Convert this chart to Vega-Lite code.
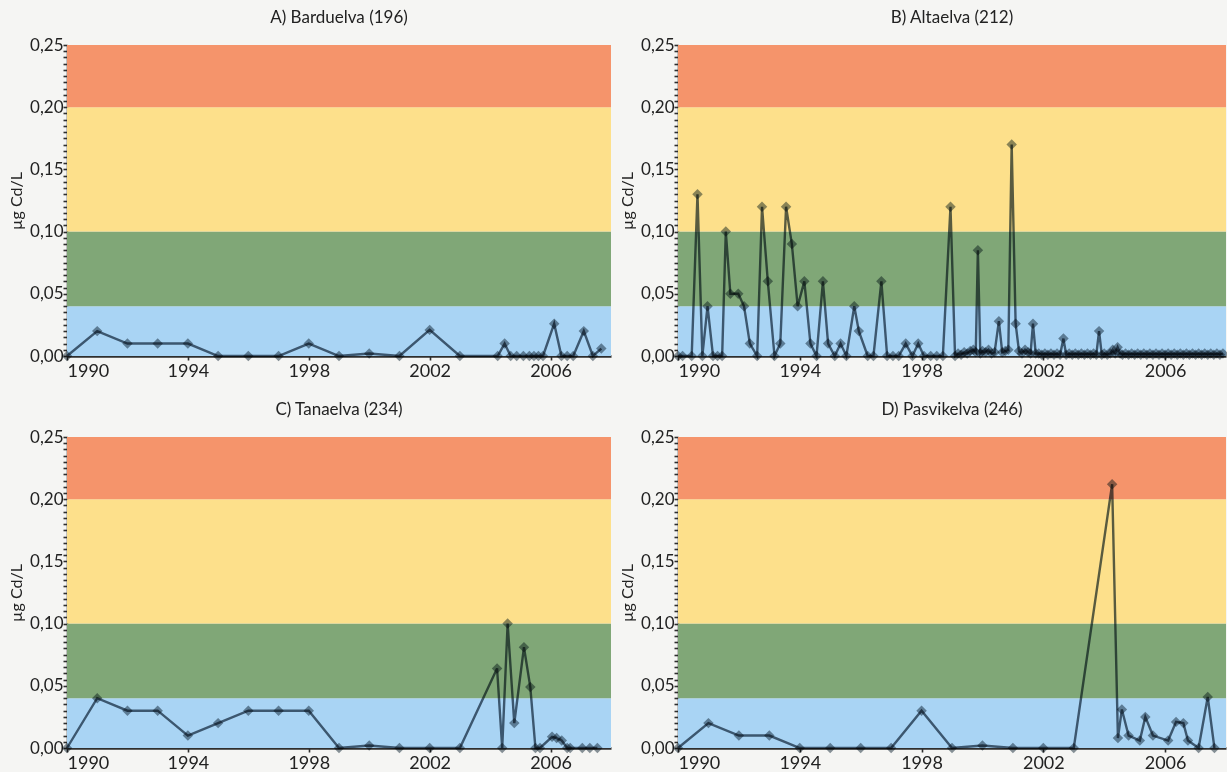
{
  "$schema": "https://vega.github.io/schema/vega-lite/v6.json",
  "background": "#f5f5f3",
  "padding": {"left": 8, "top": 9, "right": 0, "bottom": 0},
  "columns": 2,
  "spacing": {"row": 21, "column": 8},
  "datasets": {
    "bands": [
      {"lo": 0, "hi": 0.04, "k": "1"},
      {"lo": 0.04, "hi": 0.1, "k": "2"},
      {"lo": 0.1, "hi": 0.2, "k": "3"},
      {"lo": 0.2, "hi": 0.25, "k": "4"}
    ],
    "A": [
      {"t": 1990, "v": 0}, {"t": 1991, "v": 0.02}, {"t": 1992, "v": 0.01}, {"t": 1993, "v": 0.01},
      {"t": 1994, "v": 0.01}, {"t": 1995, "v": 0}, {"t": 1996, "v": 0}, {"t": 1997, "v": 0},
      {"t": 1998, "v": 0.01}, {"t": 1999, "v": 0}, {"t": 2000, "v": 0.002}, {"t": 2001, "v": 0},
      {"t": 2002, "v": 0.021}, {"t": 2003, "v": 0}, {"t": 2004.25, "v": 0}, {"t": 2004.48, "v": 0.01},
      {"t": 2004.68, "v": 0}, {"t": 2004.88, "v": 0}, {"t": 2005.1, "v": 0}, {"t": 2005.3, "v": 0},
      {"t": 2005.45, "v": 0}, {"t": 2005.6, "v": 0}, {"t": 2005.75, "v": 0}, {"t": 2006.12, "v": 0.026},
      {"t": 2006.36, "v": 0}, {"t": 2006.55, "v": 0}, {"t": 2006.75, "v": 0}, {"t": 2007.1, "v": 0.02},
      {"t": 2007.4, "v": 0}, {"t": 2007.68, "v": 0.006}
    ],
    "B": [
      {"t": 1990.0, "v": 0}, {"t": 1990.15, "v": 0}, {"t": 1990.45, "v": 0}, {"t": 1990.64, "v": 0.13},
      {"t": 1990.8, "v": 0}, {"t": 1990.97, "v": 0.04}, {"t": 1991.15, "v": 0}, {"t": 1991.3, "v": 0},
      {"t": 1991.45, "v": 0}, {"t": 1991.57, "v": 0.1}, {"t": 1991.72, "v": 0.05}, {"t": 1991.98, "v": 0.05},
      {"t": 1992.17, "v": 0.04}, {"t": 1992.36, "v": 0.01}, {"t": 1992.6, "v": 0}, {"t": 1992.76, "v": 0.12},
      {"t": 1992.95, "v": 0.06}, {"t": 1993.17, "v": 0}, {"t": 1993.36, "v": 0.01}, {"t": 1993.55, "v": 0.12},
      {"t": 1993.74, "v": 0.09}, {"t": 1993.93, "v": 0.04}, {"t": 1994.15, "v": 0.06}, {"t": 1994.35, "v": 0.01},
      {"t": 1994.55, "v": 0}, {"t": 1994.76, "v": 0.06}, {"t": 1994.93, "v": 0.01}, {"t": 1995.15, "v": 0},
      {"t": 1995.34, "v": 0.01}, {"t": 1995.53, "v": 0}, {"t": 1995.79, "v": 0.04}, {"t": 1995.94, "v": 0.02},
      {"t": 1996.23, "v": 0}, {"t": 1996.42, "v": 0}, {"t": 1996.68, "v": 0.06}, {"t": 1996.87, "v": 0},
      {"t": 1997.06, "v": 0}, {"t": 1997.25, "v": 0}, {"t": 1997.48, "v": 0.01}, {"t": 1997.7, "v": 0},
      {"t": 1997.89, "v": 0.01}, {"t": 1998.08, "v": 0}, {"t": 1998.3, "v": 0}, {"t": 1998.5, "v": 0},
      {"t": 1998.7, "v": 0}, {"t": 1998.95, "v": 0.12}, {"t": 1999.1, "v": 0}, {"t": 1999.2, "v": 0.002},
      {"t": 1999.3, "v": 0.001}, {"t": 1999.4, "v": 0.003}, {"t": 1999.5, "v": 0.002}, {"t": 1999.6, "v": 0.004},
      {"t": 1999.7, "v": 0.005}, {"t": 1999.78, "v": 0.003}, {"t": 1999.85, "v": 0.085}, {"t": 1999.93, "v": 0.002},
      {"t": 2000.0, "v": 0.004}, {"t": 2000.1, "v": 0.003}, {"t": 2000.2, "v": 0.005}, {"t": 2000.3, "v": 0.002},
      {"t": 2000.4, "v": 0.003}, {"t": 2000.54, "v": 0.028}, {"t": 2000.65, "v": 0.003}, {"t": 2000.75, "v": 0.004},
      {"t": 2000.85, "v": 0.005}, {"t": 2000.96, "v": 0.17}, {"t": 2001.09, "v": 0.026}, {"t": 2001.2, "v": 0.004},
      {"t": 2001.3, "v": 0.002}, {"t": 2001.4, "v": 0.005}, {"t": 2001.5, "v": 0.003}, {"t": 2001.58, "v": 0.002},
      {"t": 2001.66, "v": 0.026}, {"t": 2001.75, "v": 0.002}, {"t": 2001.85, "v": 0.002}, {"t": 2001.95, "v": 0.001},
      {"t": 2002.05, "v": 0.002}, {"t": 2002.15, "v": 0.001}, {"t": 2002.25, "v": 0.002}, {"t": 2002.35, "v": 0.001},
      {"t": 2002.45, "v": 0.002}, {"t": 2002.55, "v": 0.001}, {"t": 2002.66, "v": 0.014}, {"t": 2002.75, "v": 0.001},
      {"t": 2002.85, "v": 0.002}, {"t": 2002.95, "v": 0.001}, {"t": 2003.05, "v": 0.002}, {"t": 2003.15, "v": 0.001},
      {"t": 2003.25, "v": 0.002}, {"t": 2003.35, "v": 0.001}, {"t": 2003.45, "v": 0.002}, {"t": 2003.55, "v": 0.001},
      {"t": 2003.65, "v": 0.002}, {"t": 2003.74, "v": 0.001}, {"t": 2003.83, "v": 0.02}, {"t": 2003.92, "v": 0.001},
      {"t": 2004.0, "v": 0.002}, {"t": 2004.1, "v": 0.001}, {"t": 2004.2, "v": 0.002}, {"t": 2004.28, "v": 0.005},
      {"t": 2004.36, "v": 0.002}, {"t": 2004.44, "v": 0.007}, {"t": 2004.52, "v": 0.002}, {"t": 2004.6, "v": 0.001},
      {"t": 2004.7, "v": 0.002}, {"t": 2004.8, "v": 0.001}, {"t": 2004.9, "v": 0.002}, {"t": 2005.0, "v": 0.001},
      {"t": 2005.1, "v": 0.002}, {"t": 2005.2, "v": 0.001}, {"t": 2005.3, "v": 0.002}, {"t": 2005.4, "v": 0.001},
      {"t": 2005.5, "v": 0.002}, {"t": 2005.6, "v": 0.001}, {"t": 2005.7, "v": 0.002}, {"t": 2005.8, "v": 0.001},
      {"t": 2005.9, "v": 0.002}, {"t": 2006.0, "v": 0.001}, {"t": 2006.1, "v": 0.002}, {"t": 2006.2, "v": 0.001},
      {"t": 2006.3, "v": 0.002}, {"t": 2006.4, "v": 0.001}, {"t": 2006.5, "v": 0.002}, {"t": 2006.6, "v": 0.001},
      {"t": 2006.7, "v": 0.002}, {"t": 2006.8, "v": 0.001}, {"t": 2006.9, "v": 0.002}, {"t": 2007.0, "v": 0.001},
      {"t": 2007.1, "v": 0.002}, {"t": 2007.2, "v": 0.001}, {"t": 2007.3, "v": 0.002}, {"t": 2007.4, "v": 0.001},
      {"t": 2007.5, "v": 0.002}, {"t": 2007.6, "v": 0.001}, {"t": 2007.7, "v": 0.002}, {"t": 2007.8, "v": 0.001},
      {"t": 2007.9, "v": 0.002}
    ],
    "C": [
      {"t": 1990, "v": 0}, {"t": 1991, "v": 0.04}, {"t": 1992, "v": 0.03}, {"t": 1993, "v": 0.03},
      {"t": 1994, "v": 0.01}, {"t": 1995, "v": 0.02}, {"t": 1996, "v": 0.03}, {"t": 1997, "v": 0.03},
      {"t": 1998, "v": 0.03}, {"t": 1999, "v": 0}, {"t": 2000, "v": 0.002}, {"t": 2001, "v": 0},
      {"t": 2002, "v": 0}, {"t": 2003, "v": 0}, {"t": 2004.23, "v": 0.064}, {"t": 2004.4, "v": 0},
      {"t": 2004.58, "v": 0.1}, {"t": 2004.8, "v": 0.02}, {"t": 2005.12, "v": 0.081}, {"t": 2005.33, "v": 0.049},
      {"t": 2005.5, "v": 0}, {"t": 2005.65, "v": 0}, {"t": 2006.05, "v": 0.009}, {"t": 2006.2, "v": 0.008},
      {"t": 2006.37, "v": 0.006}, {"t": 2006.55, "v": 0}, {"t": 2006.65, "v": 0}, {"t": 2007.05, "v": 0},
      {"t": 2007.3, "v": 0}, {"t": 2007.55, "v": 0}
    ],
    "D": [
      {"t": 1990, "v": 0}, {"t": 1991, "v": 0.02}, {"t": 1992, "v": 0.01}, {"t": 1993, "v": 0.01},
      {"t": 1994, "v": 0}, {"t": 1995, "v": 0}, {"t": 1996, "v": 0}, {"t": 1997, "v": 0},
      {"t": 1998, "v": 0.03}, {"t": 1999, "v": 0}, {"t": 2000, "v": 0.002}, {"t": 2001, "v": 0},
      {"t": 2002, "v": 0}, {"t": 2003, "v": 0}, {"t": 2004.26, "v": 0.212}, {"t": 2004.45, "v": 0.008},
      {"t": 2004.58, "v": 0.031}, {"t": 2004.8, "v": 0.01}, {"t": 2005.17, "v": 0.006}, {"t": 2005.35, "v": 0.025},
      {"t": 2005.6, "v": 0.01}, {"t": 2006.1, "v": 0.006}, {"t": 2006.36, "v": 0.021}, {"t": 2006.6, "v": 0.02},
      {"t": 2006.75, "v": 0.006}, {"t": 2007.1, "v": 0}, {"t": 2007.4, "v": 0.041}, {"t": 2007.62, "v": 0}
    ]
  },
  "concat": [
    {
      "width": 544, "height": 311,
      "title": "A) Barduelva (196)",
      "layer": [
        {"data": {"name": "bands"}, "mark": {"type": "rect"},
         "encoding": {
           "y": {"field": "lo", "type": "quantitative", "title": "µg Cd/L", "scale": {"domain": [0, 0.25], "nice": false, "zero": true},
                 "axis": {"tickCount": 50, "labelOverlap": false, "labelFontSize": 17, "tickSize": 4,
                          "labelExpr": "abs(datum.value*20 - round(datum.value*20)) < 0.001 ? replace(format(datum.value, '.2f'), '.', ',') : ''"}},
           "y2": {"field": "hi"},
           "color": {"field": "k", "type": "nominal", "legend": null,
                     "scale": {"domain": ["1","2","3","4"], "range": ["#a9d4f4","#80a777","#fde08b","#f5946b"]}}
         }},
        {"data": {"name": "A"}, "mark": {"type": "line", "color": "#5a6874", "strokeWidth": 2.4, "blend": "multiply"},
         "encoding": {
           "x": {"field": "t", "type": "quantitative", "title": null, "scale": {"domain": [1990, 2008], "nice": false, "zero": false},
                 "axis": {"values": [1990,1994,1998,2002,2006], "format": "d", "tickSize": 4, "labelPadding": 2, "labelFontSize": 18, "domainWidth": 2.5, "domainColor": "#2e2e2e"}},
           "y": {"field": "v", "type": "quantitative", "title": "µg Cd/L"}}},
        {"data": {"name": "A"}, "mark": {"type": "point", "shape": "diamond", "filled": true, "size": 110, "color": "#8a959c", "opacity": 1, "blend": "multiply"},
         "encoding": {
           "x": {"field": "t", "type": "quantitative", "title": null},
           "y": {"field": "v", "type": "quantitative", "title": "µg Cd/L"}}}
      ]
    },
    {
      "width": 548, "height": 311,
      "title": "B) Altaelva  (212)",
      "layer": [
        {"data": {"name": "bands"}, "mark": {"type": "rect"},
         "encoding": {
           "y": {"field": "lo", "type": "quantitative", "title": "µg Cd/L", "scale": {"domain": [0, 0.25], "nice": false, "zero": true},
                 "axis": {"tickCount": 50, "labelOverlap": false, "labelFontSize": 17, "tickSize": 4,
                          "labelExpr": "abs(datum.value*20 - round(datum.value*20)) < 0.001 ? replace(format(datum.value, '.2f'), '.', ',') : ''"}},
           "y2": {"field": "hi"},
           "color": {"field": "k", "type": "nominal", "legend": null,
                     "scale": {"domain": ["1","2","3","4"], "range": ["#a9d4f4","#80a777","#fde08b","#f5946b"]}}
         }},
        {"data": {"name": "B"}, "mark": {"type": "line", "color": "#5a6874", "strokeWidth": 2.4, "blend": "multiply"},
         "encoding": {
           "x": {"field": "t", "type": "quantitative", "title": null, "scale": {"domain": [1990, 2008], "nice": false, "zero": false},
                 "axis": {"values": [1990,1994,1998,2002,2006], "format": "d", "tickSize": 4, "labelPadding": 2, "labelFontSize": 18, "domainWidth": 2.5, "domainColor": "#2e2e2e"}},
           "y": {"field": "v", "type": "quantitative", "title": "µg Cd/L"}}},
        {"data": {"name": "B"}, "mark": {"type": "point", "shape": "diamond", "filled": true, "size": 110, "color": "#8a959c", "opacity": 1, "blend": "multiply"},
         "encoding": {
           "x": {"field": "t", "type": "quantitative", "title": null},
           "y": {"field": "v", "type": "quantitative", "title": "µg Cd/L"}}}
      ]
    },
    {
      "width": 544, "height": 311,
      "title": "C) Tanaelva (234)",
      "layer": [
        {"data": {"name": "bands"}, "mark": {"type": "rect"},
         "encoding": {
           "y": {"field": "lo", "type": "quantitative", "title": "µg Cd/L", "scale": {"domain": [0, 0.25], "nice": false, "zero": true},
                 "axis": {"tickCount": 50, "labelOverlap": false, "labelFontSize": 17, "tickSize": 4,
                          "labelExpr": "abs(datum.value*20 - round(datum.value*20)) < 0.001 ? replace(format(datum.value, '.2f'), '.', ',') : ''"}},
           "y2": {"field": "hi"},
           "color": {"field": "k", "type": "nominal", "legend": null,
                     "scale": {"domain": ["1","2","3","4"], "range": ["#a9d4f4","#80a777","#fde08b","#f5946b"]}}
         }},
        {"data": {"name": "C"}, "mark": {"type": "line", "color": "#5a6874", "strokeWidth": 2.4, "blend": "multiply"},
         "encoding": {
           "x": {"field": "t", "type": "quantitative", "title": null, "scale": {"domain": [1990, 2008], "nice": false, "zero": false},
                 "axis": {"values": [1990,1994,1998,2002,2006], "format": "d", "tickSize": 4, "labelPadding": 2, "labelFontSize": 18, "domainWidth": 2.5, "domainColor": "#2e2e2e"}},
           "y": {"field": "v", "type": "quantitative", "title": "µg Cd/L"}}},
        {"data": {"name": "C"}, "mark": {"type": "point", "shape": "diamond", "filled": true, "size": 110, "color": "#8a959c", "opacity": 1, "blend": "multiply"},
         "encoding": {
           "x": {"field": "t", "type": "quantitative", "title": null},
           "y": {"field": "v", "type": "quantitative", "title": "µg Cd/L"}}}
      ]
    },
    {
      "width": 548, "height": 311,
      "title": "D) Pasvikelva (246)",
      "layer": [
        {"data": {"name": "bands"}, "mark": {"type": "rect"},
         "encoding": {
           "y": {"field": "lo", "type": "quantitative", "title": "µg Cd/L", "scale": {"domain": [0, 0.25], "nice": false, "zero": true},
                 "axis": {"tickCount": 50, "labelOverlap": false, "labelFontSize": 17, "tickSize": 4,
                          "labelExpr": "abs(datum.value*20 - round(datum.value*20)) < 0.001 ? replace(format(datum.value, '.2f'), '.', ',') : ''"}},
           "y2": {"field": "hi"},
           "color": {"field": "k", "type": "nominal", "legend": null,
                     "scale": {"domain": ["1","2","3","4"], "range": ["#a9d4f4","#80a777","#fde08b","#f5946b"]}}
         }},
        {"data": {"name": "D"}, "mark": {"type": "line", "color": "#5a6874", "strokeWidth": 2.4, "blend": "multiply"},
         "encoding": {
           "x": {"field": "t", "type": "quantitative", "title": null, "scale": {"domain": [1990, 2008], "nice": false, "zero": false},
                 "axis": {"values": [1990,1994,1998,2002,2006], "format": "d", "tickSize": 4, "labelPadding": 2, "labelFontSize": 18, "domainWidth": 2.5, "domainColor": "#2e2e2e"}},
           "y": {"field": "v", "type": "quantitative", "title": "µg Cd/L"}}},
        {"data": {"name": "D"}, "mark": {"type": "point", "shape": "diamond", "filled": true, "size": 110, "color": "#8a959c", "opacity": 1, "blend": "multiply"},
         "encoding": {
           "x": {"field": "t", "type": "quantitative", "title": null},
           "y": {"field": "v", "type": "quantitative", "title": "µg Cd/L"}}}
      ]
    }
  ],
  "config": {
    "font": "Lato",
    "view": {"stroke": null},
    "title": {"fontSize": 17, "fontWeight": "normal", "color": "#222222", "offset": 9, "anchor": "middle"},
    "axis": {"labelFontSize": 17, "titleFontSize": 16, "titleFontWeight": "normal", "labelColor": "#222222", "titleColor": "#222222",
             "grid": false, "zindex": 1, "tickColor": "#2e2e2e", "tickWidth": 1.6, "domainColor": "#2e2e2e", "domainWidth": 1.5,
             "labelPadding": 0, "titlePadding": 5, "labelOverlap": false, "labelBound": false}
  }
}
